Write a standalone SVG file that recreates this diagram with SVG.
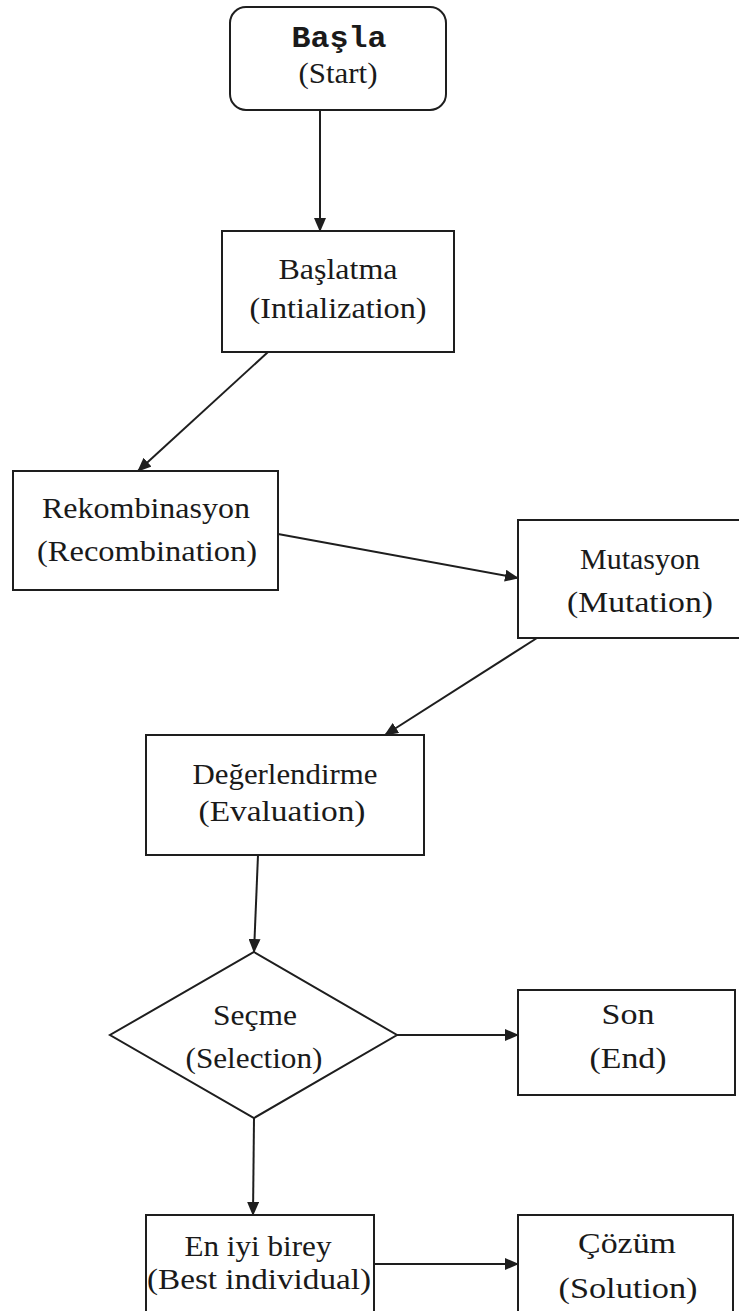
<svg xmlns="http://www.w3.org/2000/svg" width="739" height="1311" viewBox="0 0 739 1311">
<style>
.box{fill:#fff;stroke:#1e1e1e;stroke-width:2}
.t{font-family:"Liberation Serif","Times New Roman",serif;font-size:30px;fill:#1a1a1a;text-anchor:middle}
.m{font-family:"Liberation Mono","Courier New",monospace;font-size:30px;font-weight:bold;fill:#1a1a1a;text-anchor:middle}
.c{stroke:#1e1e1e;stroke-width:2;fill:none;marker-end:url(#ah)}
</style>
<defs>
<marker id="ah" markerUnits="userSpaceOnUse" markerWidth="14" markerHeight="12" refX="13" refY="6" orient="auto">
<path d="M0,0 L14,6 L0,12 z" fill="#1e1e1e"/>
</marker>
</defs>
<rect width="739" height="1311" fill="#fff"/>
<g id="connectors">
<line class="c" x1="320" y1="110" x2="320" y2="231"/>
<line class="c" x1="268" y1="352" x2="138" y2="471"/>
<line class="c" x1="278" y1="534" x2="518" y2="578"/>
<line class="c" x1="537" y1="638" x2="385" y2="735"/>
<line class="c" x1="258" y1="855" x2="254" y2="952"/>
<line class="c" x1="397" y1="1035" x2="518" y2="1035"/>
<line class="c" x1="254" y1="1118" x2="253" y2="1215"/>
<line class="c" x1="374" y1="1264" x2="518" y2="1264"/>
</g>
<g id="start">
<rect class="box" x="230" y="7" width="216" height="103" rx="16"/>
<text class="m" x="339" y="47" textLength="95" lengthAdjust="spacingAndGlyphs">Başla</text>
<text class="t" x="338" y="83" textLength="79" lengthAdjust="spacingAndGlyphs">(Start)</text>
</g>
<g id="init">
<rect class="box" x="222" y="231" width="232" height="121"/>
<text class="t" x="338" y="279" textLength="119" lengthAdjust="spacingAndGlyphs">Başlatma</text>
<text class="t" x="338" y="318" textLength="177" lengthAdjust="spacingAndGlyphs">(Intialization)</text>
</g>
<g id="recomb">
<rect class="box" x="13" y="471" width="265" height="119"/>
<text class="t" x="146" y="518" textLength="208" lengthAdjust="spacingAndGlyphs">Rekombinasyon</text>
<text class="t" x="147" y="561" textLength="220" lengthAdjust="spacingAndGlyphs">(Recombination)</text>
</g>
<g id="mutation">
<rect class="box" x="518" y="520" width="244" height="118"/>
<text class="t" x="640" y="569" textLength="120" lengthAdjust="spacingAndGlyphs">Mutasyon</text>
<text class="t" x="640" y="612" textLength="146" lengthAdjust="spacingAndGlyphs">(Mutation)</text>
</g>
<g id="evaluation">
<rect class="box" x="146" y="735" width="278" height="120"/>
<text class="t" x="285" y="784" textLength="185" lengthAdjust="spacingAndGlyphs">Değerlendirme</text>
<text class="t" x="282" y="821" textLength="167" lengthAdjust="spacingAndGlyphs">(Evaluation)</text>
</g>
<g id="selection">
<polygon class="box" points="254,952 397,1035 254,1118 110,1035"/>
<text class="t" x="255" y="1025" textLength="84" lengthAdjust="spacingAndGlyphs">Seçme</text>
<text class="t" x="254" y="1068" textLength="137" lengthAdjust="spacingAndGlyphs">(Selection)</text>
</g>
<g id="end">
<rect class="box" x="518" y="990" width="217" height="105"/>
<text class="t" x="628" y="1024" textLength="53" lengthAdjust="spacingAndGlyphs">Son</text>
<text class="t" x="628" y="1068" textLength="77" lengthAdjust="spacingAndGlyphs">(End)</text>
</g>
<g id="best">
<rect class="box" x="146" y="1215" width="228" height="110"/>
<text class="t" x="258" y="1256" textLength="147" lengthAdjust="spacingAndGlyphs">En iyi birey</text>
<text class="t" x="259" y="1289" textLength="224" lengthAdjust="spacingAndGlyphs">(Best individual)</text>
</g>
<g id="solution">
<rect class="box" x="518" y="1215" width="215" height="110"/>
<text class="t" x="627" y="1253" textLength="98" lengthAdjust="spacingAndGlyphs">Çözüm</text>
<text class="t" x="628" y="1298" textLength="139" lengthAdjust="spacingAndGlyphs">(Solution)</text>
</g>
</svg>
